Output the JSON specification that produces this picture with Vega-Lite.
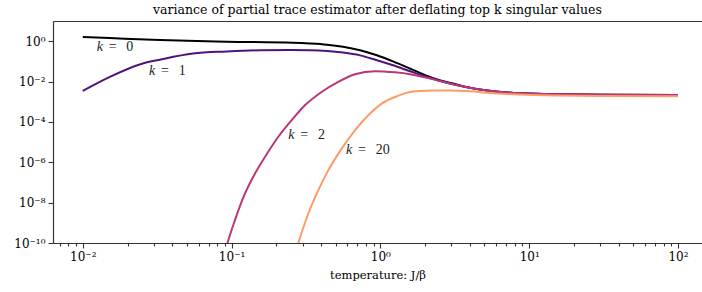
{
  "$schema": "https://vega.github.io/schema/vega-lite/v6.json",
  "autosize": "none",
  "width": 649,
  "height": 222,
  "padding": {"left": 53, "top": 21, "right": 0, "bottom": 49},
  "background": "white",
  "config": {
    "view": {"stroke": null},
    "font": "DejaVu Serif",
    "axis": {"labelFont": "DejaVu Serif", "titleFont": "DejaVu Serif", "labelColor": "#000", "titleColor": "#000", "domainColor": "#333", "tickColor": "#333", "domainWidth": 1.2, "tickWidth": 1.1, "grid": false, "titleFontWeight": "normal"},
    "title": {"font": "DejaVu Serif", "fontWeight": "normal", "fontSize": 12.5, "color": "#000"}
  },
  "title": {"text": "variance of partial trace estimator after deflating top k singular values", "anchor": "middle", "offset": 5},
  "datasets": {
    "curves": [
      {"T": 0.01, "v": 1.6, "k": "k = 0"},
      {"T": 0.0152, "v": 1.42, "k": "k = 0"},
      {"T": 0.033, "v": 1.14, "k": "k = 0"},
      {"T": 0.093, "v": 0.95, "k": "k = 0"},
      {"T": 0.258, "v": 0.84, "k": "k = 0"},
      {"T": 0.336, "v": 0.77, "k": "k = 0"},
      {"T": 0.438, "v": 0.67, "k": "k = 0"},
      {"T": 0.561, "v": 0.53, "k": "k = 0"},
      {"T": 0.73, "v": 0.357, "k": "k = 0"},
      {"T": 0.948, "v": 0.2, "k": "k = 0"},
      {"T": 1.216, "v": 0.1, "k": "k = 0"},
      {"T": 1.582, "v": 0.044, "k": "k = 0"},
      {"T": 1.847, "v": 0.0267, "k": "k = 0"},
      {"T": 2.26, "v": 0.0146, "k": "k = 0"},
      {"T": 3.08, "v": 0.008, "k": "k = 0"},
      {"T": 3.82, "v": 0.0053, "k": "k = 0"},
      {"T": 5.21, "v": 0.0036, "k": "k = 0"},
      {"T": 8.68, "v": 0.0026, "k": "k = 0"},
      {"T": 16.1, "v": 0.00232, "k": "k = 0"},
      {"T": 30, "v": 0.00224, "k": "k = 0"},
      {"T": 100, "v": 0.00218, "k": "k = 0"},
      {"T": 0.01, "v": 0.0034, "k": "k = 1"},
      {"T": 0.0152, "v": 0.0169, "k": "k = 1"},
      {"T": 0.0253, "v": 0.078, "k": "k = 1"},
      {"T": 0.033, "v": 0.121, "k": "k = 1"},
      {"T": 0.055, "v": 0.245, "k": "k = 1"},
      {"T": 0.093, "v": 0.31, "k": "k = 1"},
      {"T": 0.155, "v": 0.355, "k": "k = 1"},
      {"T": 0.25, "v": 0.365, "k": "k = 1"},
      {"T": 0.336, "v": 0.355, "k": "k = 1"},
      {"T": 0.438, "v": 0.325, "k": "k = 1"},
      {"T": 0.561, "v": 0.272, "k": "k = 1"},
      {"T": 0.73, "v": 0.198, "k": "k = 1"},
      {"T": 0.948, "v": 0.114, "k": "k = 1"},
      {"T": 1.216, "v": 0.064, "k": "k = 1"},
      {"T": 1.582, "v": 0.0325, "k": "k = 1"},
      {"T": 2.157, "v": 0.0151, "k": "k = 1"},
      {"T": 3.08, "v": 0.0073, "k": "k = 1"},
      {"T": 3.82, "v": 0.0052, "k": "k = 1"},
      {"T": 5.21, "v": 0.0036, "k": "k = 1"},
      {"T": 8.68, "v": 0.0026, "k": "k = 1"},
      {"T": 16.1, "v": 0.00232, "k": "k = 1"},
      {"T": 30, "v": 0.00224, "k": "k = 1"},
      {"T": 100, "v": 0.00218, "k": "k = 1"},
      {"T": 0.0901, "v": 3.4e-11, "k": "k = 2"},
      {"T": 0.0939, "v": 1e-10, "k": "k = 2"},
      {"T": 0.1052, "v": 1.31e-9, "k": "k = 2"},
      {"T": 0.1229, "v": 2.77e-8, "k": "k = 2"},
      {"T": 0.1435, "v": 2.72e-7, "k": "k = 2"},
      {"T": 0.1675, "v": 1.81e-6, "k": "k = 2"},
      {"T": 0.2057, "v": 1.78e-5, "k": "k = 2"},
      {"T": 0.2532, "v": 0.00012, "k": "k = 2"},
      {"T": 0.3111, "v": 0.000667, "k": "k = 2"},
      {"T": 0.4028, "v": 0.00305, "k": "k = 2"},
      {"T": 0.5209, "v": 0.00955, "k": "k = 2"},
      {"T": 0.6748, "v": 0.023, "k": "k = 2"},
      {"T": 0.9199, "v": 0.0325, "k": "k = 2"},
      {"T": 1.2537, "v": 0.0285, "k": "k = 2"},
      {"T": 1.582, "v": 0.0232, "k": "k = 2"},
      {"T": 2.157, "v": 0.0141, "k": "k = 2"},
      {"T": 3.08, "v": 0.00734, "k": "k = 2"},
      {"T": 3.82, "v": 0.0052, "k": "k = 2"},
      {"T": 5.21, "v": 0.0036, "k": "k = 2"},
      {"T": 8.68, "v": 0.0026, "k": "k = 2"},
      {"T": 16.1, "v": 0.00232, "k": "k = 2"},
      {"T": 30, "v": 0.00224, "k": "k = 2"},
      {"T": 100, "v": 0.00218, "k": "k = 2"},
      {"T": 0.2667, "v": 3.0e-11, "k": "k = 20"},
      {"T": 0.2805, "v": 9.8e-11, "k": "k = 20"},
      {"T": 0.3274, "v": 2.81e-9, "k": "k = 20"},
      {"T": 0.3823, "v": 4.03e-8, "k": "k = 20"},
      {"T": 0.4463, "v": 3.96e-7, "k": "k = 20"},
      {"T": 0.5494, "v": 4.73e-6, "k": "k = 20"},
      {"T": 0.6748, "v": 3.83e-5, "k": "k = 20"},
      {"T": 0.8291, "v": 0.000213, "k": "k = 20"},
      {"T": 1.0205, "v": 0.00081, "k": "k = 20"},
      {"T": 1.32, "v": 0.002, "k": "k = 20"},
      {"T": 1.582, "v": 0.003, "k": "k = 20"},
      {"T": 1.847, "v": 0.00342, "k": "k = 20"},
      {"T": 2.26, "v": 0.00362, "k": "k = 20"},
      {"T": 2.94, "v": 0.00362, "k": "k = 20"},
      {"T": 3.82, "v": 0.00338, "k": "k = 20"},
      {"T": 5.21, "v": 0.00278, "k": "k = 20"},
      {"T": 8.68, "v": 0.00226, "k": "k = 20"},
      {"T": 16.1, "v": 0.00202, "k": "k = 20"},
      {"T": 30, "v": 0.00191, "k": "k = 20"},
      {"T": 100, "v": 0.00186, "k": "k = 20"}
    ],
    "labels": [
      {"T": 0.0124, "v": 0.487, "sym": "k", "rest": "=\u2002\u20090"},
      {"T": 0.0279, "v": 0.0336, "sym": "k", "rest": "=\u2002\u20091"},
      {"T": 0.2404, "v": 2.16e-5, "sym": "k", "rest": "=\u2002\u20092"},
      {"T": 0.587, "v": 4.2e-6, "sym": "k", "rest": "=\u2002\u200920"}
    ]
  },
  "encoding": {
    "y": {
      "field": "v", "type": "quantitative",
      "scale": {"type": "log", "domain": [1e-10, 10], "nice": false},
      "axis": {
        "title": null,
        "values": [1e-10, 1e-8, 1e-6, 1e-4, 1e-2, 1],
        "tickSize": 5,
        "labelPadding": 3,
        "labelFontSize": 12,
        "labelExpr": "'10' + replace(replace(replace(replace(replace(replace(replace(replace(''+round(log(datum.value)/LN10),'-','\u207b'),'1','\u00b9'),'0','\u2070'),'2','\u00b2'),'4','\u2074'),'6','\u2076'),'8','\u2078'),'9','\u2079')"
      }
    }
  },
  "layer": [
    {
      "data": {"name": "curves"},
      "mark": {"type": "line", "strokeWidth": 2, "clip": true, "interpolate": "monotone"},
      "encoding": {
        "x": {
          "field": "T", "type": "quantitative",
          "scale": {"type": "log", "domain": [0.00631, 145], "nice": false},
          "axis": {
            "orient": "bottom",
            "title": "temperature: J/\u03b2",
            "titleFontSize": 11.5,
            "titlePadding": 7,
            "labelFontSize": 12,
            "labelPadding": 3,
            "values": [0.007, 0.008, 0.009, 0.01, 0.02, 0.03, 0.04, 0.05, 0.06, 0.07, 0.08, 0.09, 0.1, 0.2, 0.3, 0.4, 0.5, 0.6, 0.7, 0.8, 0.9, 1, 2, 3, 4, 5, 6, 7, 8, 9, 10, 20, 30, 40, 50, 60, 70, 80, 90, 100],
            "tickSize": {"condition": {"test": "abs(log(datum.value)/LN10 - round(log(datum.value)/LN10)) < 0.01", "value": 5}, "value": 3},
            "labelExpr": "abs(log(datum.value)/LN10 - round(log(datum.value)/LN10)) > 0.01 ? '' : '10' + replace(replace(replace(replace(replace(replace(replace(replace(''+round(log(datum.value)/LN10),'-','\u207b'),'1','\u00b9'),'0','\u2070'),'2','\u00b2'),'4','\u2074'),'6','\u2076'),'8','\u2078'),'9','\u2079')"
          }
        },
        "color": {
          "field": "k", "type": "nominal",
          "scale": {"domain": ["k = 0", "k = 1", "k = 2", "k = 20"], "range": ["#000000", "#51127c", "#b73779", "#fd9b6b"]},
          "legend": null
        }
      }
    },
    {
      "data": {"name": "labels"},
      "mark": {"type": "text", "align": "left", "baseline": "middle", "fontSize": 14, "fontStyle": "italic", "font": "Liberation Serif", "color": "#222"},
      "encoding": {
        "x": {
          "field": "T", "type": "quantitative",
          "scale": {"type": "log", "domain": [0.00631, 145], "nice": false},
          "axis": {"orient": "top", "title": null, "labels": false, "ticks": false, "domain": true}
        },
        "text": {"field": "sym"}
      }
    },
    {
      "data": {"name": "labels"},
      "mark": {"type": "text", "align": "left", "baseline": "middle", "fontSize": 14, "dx": 12, "font": "Liberation Serif", "color": "#222"},
      "encoding": {
        "x": {
          "field": "T", "type": "quantitative",
          "scale": {"type": "log", "domain": [0.00631, 145], "nice": false},
          "axis": null
        },
        "text": {"field": "rest"}
      }
    }
  ],
  "resolve": {"axis": {"x": "independent"}}
}
